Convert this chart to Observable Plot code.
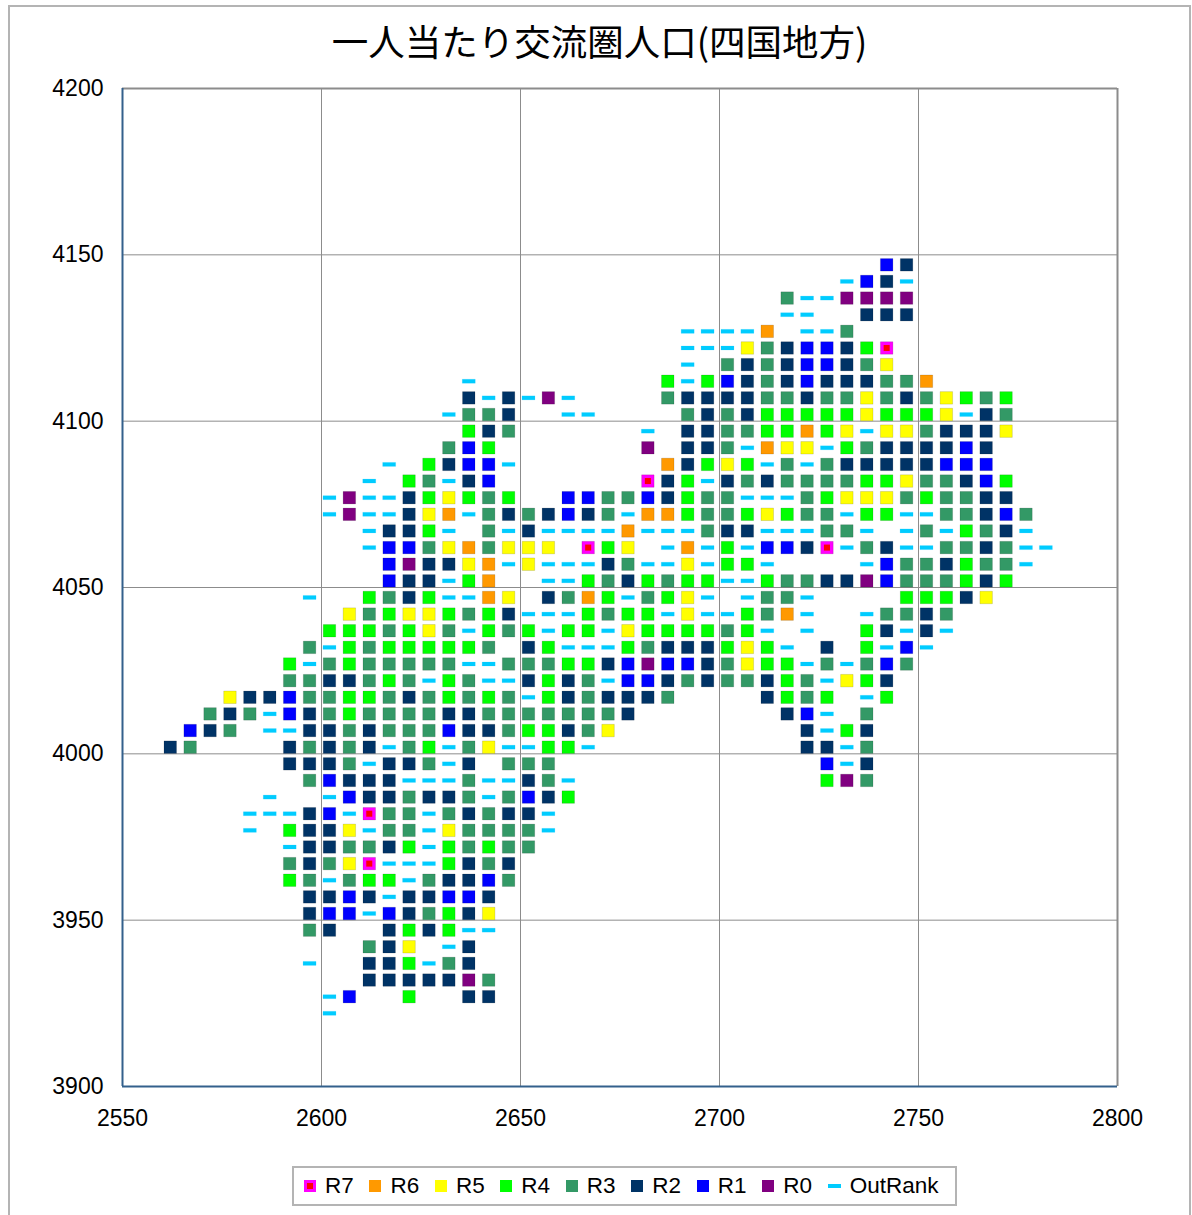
<!DOCTYPE html>
<html>
<head>
<meta charset="utf-8">
<script src="https://cdn.jsdelivr.net/npm/d3@7"></script>
<script src="https://cdn.jsdelivr.net/npm/@observablehq/plot@0.6"></script>
<style>
html,body{margin:0;padding:0;background:#fff;overflow:hidden}
#page{position:relative;width:1192px;height:1215px;overflow:hidden}
#frame{position:absolute;left:8px;top:5px;width:1183px;height:1230px;border:2px solid #b4b4b4;box-sizing:border-box}
#title{position:absolute;left:0;width:1199px;top:14px;text-align:center;font:36.5px "Noto Sans CJK JP",sans-serif;color:#000;white-space:nowrap}
#chart{position:absolute;left:0;top:0}
#legend{position:absolute;left:292px;top:1166px;width:665px;height:40px;box-sizing:border-box;border:2px solid #b4b4b4;background:#fff;display:flex;align-items:center;padding-left:10px;gap:15.7px;font:22.5px "Liberation Sans",sans-serif;color:#000}
#legend .item{display:flex;align-items:center;gap:9px}
#legend .sw{width:12px;height:12px;display:flex;align-items:center;justify-content:center}
#legend .sw i{display:block;width:6px;height:6px;background:#f00}
#legend .dash{width:13px;height:4px}
</style>
</head>
<body>
<div id="page">
  <div id="chart"></div>
  <div id="frame"></div>
  <div id="title"></div>
  <div id="legend"></div>
</div>
<script>
const titleText = "一人当たり交流圏人口(四国地方)";
const xTicks = [2550, 2600, 2650, 2700, 2750, 2800];
const yTicks = [3900, 3950, 4000, 4050, 4100, 4150, 4200];
const cellStep = 5;

const rankCodes  = ["7", "6", "5", "4", "3", "2", "1", "0", "-"];
const rankNames  = ["R7", "R6", "R5", "R4", "R3", "R2", "R1", "R0", "OutRank"];
const rankColors = ["#ff00ff", "#ff9900", "#ffff00", "#00ff00", "#339966", "#003366", "#0000ff", "#800080", "#00ccff"];

const rowY = [4147,4142,4137,4132,4127,4122,4117,4112,4107,4102,4097,4092,4087,4082,4077,4072,4067,4062,4057,4052,4047,4042,4037,4032,4027,4022,4017,4012,4007,4002,3997,3992,3987,3982,3977,3972,3967,3962,3957,3952,3947,3942,3937,3932,3927,3922];
const rowStart = [2742,2732,2717,2717,2692,2692,2692,2637,2637,2632,2637,2632,2617,2612,2602,2602,2612,2612,2617,2617,2597,2607,2602,2597,2592,2592,2577,2572,2567,2562,2592,2597,2587,2582,2582,2592,2592,2592,2597,2597,2597,2612,2597,2612,2602,2602];
const rowCells = [
  "12",
  "-12-",
  "3--0000",
  "--..222",
  "----6.--3",
  "---53211247",
  "-.323211235",
  "- ......... 4-412321222336",
  "2-2-0- .... 322223323353235434",
  "-332 .. -- .... 32324444454445-23",
  "423 ...... -. 223344645-5532225",
  "314 ....... 0. 223-655-43222 212",
  "-.4211- ....... 62454-3-3 22222 111",
  "-.43-21 ....... 724-2323333 44533214",
  "-0--245434 .. 1133 12433---34 555343322",
  "-0--2 56-32 32123 -6643 34543 3-44- -3321 3",
  "-224- .3-2- ---6- --322 ---33 -.-3- 432-",
  "-1135 63555 .745. -6-4- 1127- 32--3 323--",
  "10225 6-5-- -23-- 5-44- ....- 13324 33-",
  "122-4 6..-- 43243 44--4 33220 13334 24",
  "-..43 24--6 5.236 4-345 -.-33 -.... 44425",
  "53455 4342- --434 4-5-- 436-. .-332 3",
  "44434 53-43 4-44- 54444 34-.- ..42- 2-",
  "3-434 44443 .24-- -4322 2454- .2.4- 1-",
  "4-343 3333- -3334 42101 12354 4-3-3 13",
  "33223 43-43 --242 3-112 32332 43-54 2",
  "52213 34432 34343 -4232 223.. ..243 4.-4",
  "323-1 23433 33223 33333 32... ....2 1-.3",
  "123.- -2232 33312 23442 35 ......... 2-42",
  "23... .2323 2-34- 35--4 4- .......... 22-3",
  "2223- 223-2 .333 ............. 1-2",
  "31222 ---3- -23- ............ 403",
  "-..-1 22322 3-312 4",
  "---21 -733- 32322 -",
  "-.422 5-33- 53333 -",
  "-2233 24-43 433",
  "32357 ---42 32",
  "43-34 4-322 13",
  "2212- 22112",
  "211-1 23425",
  "32..2 424--",
  "325.- 2",
  "-..22 4-32",
  "22222 03",
  "-1..4 ..22",
  "-"
];

// Table built from the lists above
const cells = rowY.flatMap((y, i) =>
  Array.from(rowCells[i].replace(/ /g, ""))
    .map((code, k) => ({x: rowStart[i] + k * cellStep, y, code}))
    .filter(d => d.code !== ".")
);

const colorOf = Object.fromEntries(rankCodes.map((c, i) => [c, rankColors[i]]));
const squares = cells.filter(d => d.code !== "-");
const dashes = cells.filter(d => d.code === "-");
const top7 = cells.filter(d => d.code === "7");

const dashSymbol = {draw(ctx) { ctx.rect(-6.5, -2, 13, 4); }};

const chart = Plot.plot({
  width: 1192,
  height: 1215,
  marginTop: 88,
  marginRight: 75,
  marginBottom: 129,
  marginLeft: 122,
  style: {background: "transparent", fontFamily: "'Liberation Sans',sans-serif", color: "#000"},
  x: {domain: [2550, 2800]},
  y: {domain: [3900, 4200]},
  marks: [
    Plot.ruleX(xTicks.slice(1, -1), {stroke: "#8c8c8c", strokeWidth: 1, strokeOpacity: 1}),
    Plot.ruleY(yTicks.slice(1, -1), {stroke: "#8c8c8c", strokeWidth: 1, strokeOpacity: 1}),
    Plot.ruleX([2800], {stroke: "#8c8c8c", strokeWidth: 2}),
    Plot.ruleY([4200], {stroke: "#8c8c8c", strokeWidth: 2}),
    Plot.ruleX([2550], {stroke: "#33608c", strokeWidth: 2}),
    Plot.ruleY([3900], {stroke: "#33608c", strokeWidth: 2}),
    Plot.dot(squares, {x: "x", y: "y", symbol: "square", r: 7.05, fill: d => colorOf[d.code], stroke: "#000", strokeOpacity: 0.13, strokeWidth: 1}),
    Plot.dot(top7, {x: "x", y: "y", symbol: "square", r: 3.4, fill: "#ff0000"}),
    Plot.dot(dashes, {x: "x", y: "y", symbol: dashSymbol, r: 7, fill: colorOf["-"], stroke: "#00ccff", strokeOpacity: 0.15, strokeWidth: 1}),
    Plot.axisX({ticks: xTicks, tickFormat: d => String(d), tickSize: 0, tickPadding: 23, fontSize: 23, anchor: "bottom", label: null}),
    Plot.axisY({ticks: yTicks, tickFormat: d => String(d), tickSize: 0, tickPadding: 19, fontSize: 23, anchor: "left", label: null})
  ]
});
document.getElementById("chart").appendChild(chart);
document.getElementById("title").textContent = titleText;

const legend = document.getElementById("legend");
rankNames.forEach((name, i) => {
  const item = document.createElement("div");
  item.className = "item";
  const sw = document.createElement("div");
  sw.className = rankCodes[i] === "-" ? "dash" : "sw";
  sw.style.background = rankColors[i];
  if (rankCodes[i] === "7") sw.appendChild(document.createElement("i"));
  const label = document.createElement("span");
  label.textContent = name;
  item.append(sw, label);
  legend.appendChild(item);
});
</script>
</body>
</html>
